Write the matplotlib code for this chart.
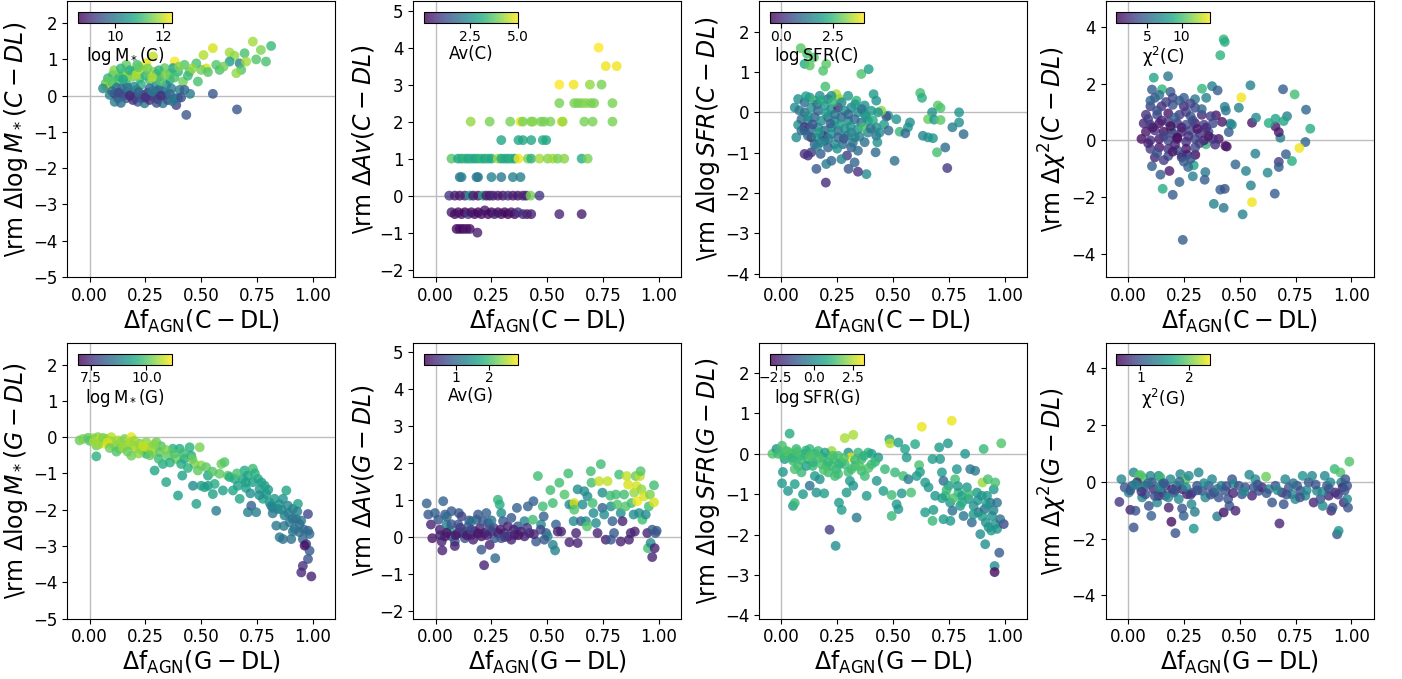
import numpy as np
import matplotlib.pyplot as plt

# each row: delta f_AGN, delta quantity, colour-bar quantity
mstar_c = [
    (0.731, 1.49, 11.8), (0.813, 1.37, 11.1), (0.767, 1.26, 11.6), (0.552, 1.31, 12.1),
    (0.510, 1.12, 11.9), (0.627, 1.19, 11.8), (0.649, 1.10, 11.7), (0.694, 1.17, 11.2),
    (0.746, 1.00, 11.3), (0.790, 0.94, 11.2), (0.627, 0.94, 10.6), (0.672, 0.89, 10.2),
    (0.701, 0.94, 11.8), (0.679, 0.71, 11.3), (0.657, 0.62, 11.7), (0.567, 0.85, 11.3),
    (0.582, 0.71, 11.2), (0.522, 0.75, 12.1), (0.500, 0.71, 11.5), (0.478, 0.89, 11.2),
    (0.448, 0.66, 11.4), (0.485, 0.39, 11.2), (0.425, 0.85, 11.3), (0.381, 0.94, 12.3),
    (0.373, 0.76, 10.6), (0.396, 0.66, 11.0), (0.418, 0.39, 11.5), (0.358, 0.43, 10.9),
    (0.336, 0.76, 11.4), (0.313, 0.52, 10.5), (0.284, 0.66, 11.7), (0.254, 0.89, 12.2),
    (0.239, 0.71, 12.1), (0.224, 0.48, 11.2), (0.194, 0.66, 11.3), (0.164, 0.85, 11.4),
    (0.149, 0.62, 11.8), (0.127, 0.43, 11.3), (0.104, 0.57, 11.2), (0.082, 0.48, 11.0),
    (0.072, 0.34, 11.3), (0.075, 0.25, 12.0), (0.134, 0.52, 11.1), (0.164, 0.34, 11.0),
    (0.269, 0.43, 11.2), (0.299, 0.29, 10.4), (0.343, 0.29, 10.3), (0.284, 1.08, 12.0),
    (0.213, 0.85, 11.2), (0.104, 0.34, 11.2), (0.190, 0.52, 11.5), (0.300, 0.60, 11.3),
    (0.360, 0.60, 11.0), (0.230, 0.30, 10.9), (0.060, 0.20, 10.3), (0.090, 0.02, 10.2),
    (0.112, -0.17, 10.1), (0.112, 0.06, 9.0), (0.142, 0.20, 9.6), (0.164, -0.07, 9.5),
    (0.187, 0.06, 10.2), (0.216, -0.17, 9.5), (0.246, -0.21, 10.0), (0.239, 0.02, 8.9),
    (0.269, -0.12, 9.0), (0.306, -0.10, 8.6), (0.328, -0.21, 10.0), (0.343, 0.02, 9.6),
    (0.381, -0.07, 9.5), (0.388, -0.26, 9.2), (0.403, 0.16, 10.1), (0.425, 0.16, 9.6),
    (0.433, -0.53, 9.5), (0.552, 0.05, 9.5), (0.660, -0.38, 9.5), (0.299, 0.11, 9.6),
    (0.209, 0.16, 10.2), (0.269, 0.20, 9.7), (0.164, 0.11, 10.1), (0.194, -0.12, 9.0),
    (0.366, 0.20, 10.1), (0.328, 0.11, 10.2), (0.127, -0.07, 9.6), (0.231, -0.07, 9.5),
    (0.284, -0.03, 9.2), (0.396, -0.07, 10.1), (0.310, 0.17, 9.8), (0.150, 0.00, 9.4),
    (0.200, 0.25, 10.3), (0.260, 0.08, 9.4), (0.350, -0.12, 9.4), (0.120, 0.22, 10.0),
    (0.090, 0.40, 11.4), (0.110, 0.70, 11.6), (0.140, 0.75, 11.0), (0.170, 0.55, 11.6),
    (0.180, 0.70, 10.9), (0.210, 0.58, 11.9), (0.220, 0.78, 11.4), (0.250, 0.55, 11.0),
    (0.260, 0.75, 11.5), (0.280, 0.50, 11.9), (0.310, 0.70, 11.0), (0.320, 0.40, 11.3),
    (0.340, 0.58, 11.6), (0.380, 0.50, 11.2), (0.400, 0.80, 11.6), (0.440, 0.55, 11.1),
    (0.460, 0.75, 11.7), (0.530, 0.65, 11.3), (0.600, 0.80, 11.5), (0.150, 0.45, 10.8),
    (0.100, 0.12, 9.8), (0.130, 0.08, 9.3), (0.170, 0.22, 9.9), (0.200, -0.05, 9.3),
    (0.220, 0.10, 9.6), (0.250, -0.05, 9.0), (0.280, 0.12, 10.0), (0.300, -0.20, 9.4),
    (0.320, 0.00, 9.0), (0.360, 0.05, 9.8), (0.370, -0.15, 10.0), (0.410, -0.05, 9.4),
    (0.450, 0.05, 10.1), (0.140, -0.20, 9.8), (0.180, 0.00, 8.9),
]

av_c = [
    (0.730, 4.0, 5.0), (0.762, 3.5, 4.9), (0.811, 3.5, 4.9), (0.554, 3.0, 5.0),
    (0.618, 3.0, 4.9), (0.691, 3.0, 4.2), (0.743, 3.0, 4.0), (0.554, 2.5, 4.0),
    (0.621, 2.5, 4.0), (0.636, 2.5, 4.0), (0.654, 2.5, 4.0), (0.673, 2.5, 4.1),
    (0.695, 2.5, 4.0), (0.710, 2.5, 4.0), (0.792, 2.5, 4.0), (0.157, 2.0, 4.2),
    (0.242, 2.0, 4.0), (0.334, 2.0, 4.0), (0.380, 2.0, 4.8), (0.391, 2.0, 4.0),
    (0.428, 2.0, 4.0), (0.436, 2.0, 4.1), (0.472, 2.0, 4.0), (0.486, 2.0, 4.0),
    (0.514, 2.0, 4.0), (0.565, 2.0, 4.9), (0.569, 2.0, 4.2), (0.666, 2.0, 4.0),
    (0.703, 2.0, 4.0), (0.792, 2.0, 4.0), (0.294, 1.5, 3.0), (0.371, 1.5, 3.0),
    (0.391, 1.5, 3.0), (0.428, 1.5, 3.0), (0.480, 1.5, 3.1), (0.495, 1.5, 3.0),
    (0.071, 1.0, 3.7), (0.100, 1.0, 3.0), (0.116, 1.0, 3.1), (0.131, 1.0, 3.3),
    (0.146, 1.0, 3.0), (0.160, 1.0, 3.2), (0.175, 1.0, 3.0), (0.190, 1.0, 3.1),
    (0.205, 1.0, 3.3), (0.220, 1.0, 3.0), (0.235, 1.0, 3.2), (0.250, 1.0, 3.0),
    (0.279, 1.0, 4.3), (0.294, 1.0, 3.0), (0.309, 1.0, 3.1), (0.324, 1.0, 3.0),
    (0.339, 1.0, 3.2), (0.354, 1.0, 3.0), (0.371, 1.0, 4.9), (0.413, 1.0, 4.0),
    (0.428, 1.0, 3.2), (0.465, 1.0, 4.3), (0.502, 1.0, 4.1), (0.525, 1.0, 4.3),
    (0.547, 1.0, 4.0), (0.654, 1.0, 3.1), (0.681, 1.0, 4.0), (0.576, 1.0, 4.1),
    (0.108, 0.5, 2.0), (0.116, 0.5, 2.2), (0.183, 0.5, 2.1), (0.190, 0.5, 2.0),
    (0.250, 0.5, 2.3), (0.294, 0.5, 2.1), (0.346, 0.5, 2.2), (0.380, 0.5, 2.2),
    (0.061, 0.0, 0.9), (0.086, 0.0, 0.5), (0.108, 0.0, 0.4), (0.131, 0.0, 0.6),
    (0.153, 0.0, 2.8), (0.168, 0.0, 0.5), (0.190, 0.0, 0.4), (0.212, 0.0, 3.0),
    (0.227, 0.0, 0.5), (0.242, 0.0, 0.4), (0.257, 0.0, 0.6), (0.279, 0.0, 0.5),
    (0.301, 0.0, 0.4), (0.324, 0.0, 0.8), (0.346, 0.0, 0.5), (0.368, 0.0, 0.4),
    (0.391, 0.0, 0.6), (0.405, 0.0, 0.5), (0.425, 0.0, 4.0), (0.465, 0.0, 0.9),
    (0.071, -0.45, 0.5), (0.086, -0.5, 0.3), (0.101, -0.45, 0.3), (0.116, -0.5, 0.4),
    (0.131, -0.45, 0.2), (0.146, -0.5, 0.9), (0.160, -0.45, 0.3), (0.175, -0.5, 0.4),
    (0.190, -0.45, 0.2), (0.205, -0.5, 0.3), (0.220, -0.4, 0.4), (0.235, -0.5, 0.3),
    (0.250, -0.45, 0.2), (0.264, -0.5, 0.6), (0.279, -0.45, 0.3), (0.294, -0.5, 0.4),
    (0.309, -0.45, 0.3), (0.324, -0.5, 0.2), (0.339, -0.45, 0.4), (0.354, -0.5, 0.3),
    (0.368, -0.45, 0.8), (0.391, -0.5, 0.7), (0.409, -0.5, 0.6), (0.428, -0.5, 0.5),
    (0.554, -0.5, 0.6), (0.654, -0.5, 0.5), (0.094, -0.9, 0.2), (0.108, -0.9, 0.3),
    (0.123, -0.9, 0.2), (0.138, -0.9, 0.4), (0.153, -0.9, 0.3), (0.187, -1.0, 0.5),
]

sfr_c = [
    (0.087, 1.59, 2.8), (0.115, 1.45, 2.7), (0.146, 1.36, 2.8), (0.104, 1.20, 2.2),
    (0.127, 1.16, 2.8), (0.187, 1.03, 2.7), (0.201, 1.20, 2.8), (0.358, 0.95, 2.7),
    (0.391, 1.07, 2.0), (0.197, 0.64, 2.6), (0.246, 0.45, 3.4), (0.261, 0.33, 3.3),
    (0.299, 0.41, 1.9), (0.336, 0.29, 2.4), (0.373, 0.17, 1.8), (0.413, 0.45, 1.9),
    (0.425, 0.29, 1.8), (0.622, 0.48, 2.6), (0.630, 0.36, 2.3), (0.701, 0.17, 2.8),
    (0.713, 0.11, 2.7), (0.675, 0.00, 1.7), (0.657, -0.17, 2.9), (0.684, -0.18, 1.9),
    (0.713, -0.19, 2.8), (0.796, 0.00, 1.8), (0.796, -0.25, 1.7), (0.766, -0.37, 1.3),
    (0.816, -0.54, 1.0), (0.634, -0.58, 1.5), (0.657, -0.62, 1.7), (0.679, -0.64, 1.8),
    (0.734, -0.87, 1.0), (0.697, -0.99, 2.6), (0.743, -1.38, 0.2), (0.507, -1.20, 1.1),
    (0.530, -0.48, 2.5), (0.567, -0.37, 1.8), (0.555, -0.52, 1.0), (0.576, -0.25, 1.7),
    (0.515, -0.17, 1.8), (0.478, -0.08, 1.9), (0.470, -0.10, 0.6), (0.448, 0.04, 3.2),
    (0.433, 0.00, 1.8), (0.425, -0.37, 1.6), (0.425, -0.58, 1.0), (0.430, -0.74, 1.7),
    (0.422, -0.99, 1.0), (0.373, -0.74, 1.1), (0.381, -1.53, 1.6), (0.343, -1.47, 0.1),
    (0.328, -1.24, 0.9), (0.301, -1.40, 0.7), (0.294, -1.07, 0.2), (0.269, -1.16, 1.5),
    (0.224, -1.20, 0.9), (0.201, -1.28, 1.3), (0.199, -1.74, 0.0), (0.157, -1.40, 0.7),
    (0.119, -1.07, 0.0), (0.104, -1.03, 0.1), (0.134, -0.99, 0.2), (0.176, -1.03, 0.8),
    (0.134, -0.62, -0.5), (0.067, -0.62, 1.6), (0.104, -0.45, 0.0), (0.075, -0.31, 1.8),
    (0.239, -0.79, 1.6), (0.209, -0.87, 0.9), (0.313, -0.87, 0.9), (0.343, -0.95, 1.0),
    (0.194, -0.70, 0.9), (0.060, 0.12, 1.6), (0.075, 0.33, 1.7), (0.104, 0.25, 1.0),
    (0.127, 0.37, 1.8), (0.149, 0.29, 2.5), (0.172, 0.41, 1.7), (0.209, 0.33, 1.0),
    (0.224, 0.41, 1.7), (0.104, 0.00, 1.0), (0.134, 0.12, 1.7), (0.164, 0.04, 1.0),
    (0.194, 0.17, 1.8), (0.224, 0.08, 1.6), (0.254, 0.12, 0.0), (0.284, 0.04, 1.7),
    (0.313, 0.12, 1.6), (0.343, 0.00, 1.8), (0.373, -0.04, 1.7), (0.403, 0.04, 1.9),
    (0.090, -0.17, 1.0), (0.119, -0.21, 1.6), (0.149, -0.12, 0.9), (0.179, -0.21, 1.7),
    (0.209, -0.12, 1.0), (0.239, -0.21, 1.8), (0.269, -0.12, 0.9), (0.299, -0.21, 1.6),
    (0.328, -0.17, 1.0), (0.358, -0.25, 1.0), (0.388, -0.21, 1.7), (0.104, -0.37, 0.0),
    (0.134, -0.41, 1.0), (0.164, -0.37, 1.7), (0.194, -0.45, 0.9), (0.224, -0.37, 1.8),
    (0.254, -0.45, 1.0), (0.284, -0.41, 1.6), (0.313, -0.50, 1.0), (0.343, -0.41, 1.7),
    (0.388, -0.50, 1.6), (0.119, -0.58, 1.0), (0.157, -0.62, 1.6), (0.187, -0.58, 0.1),
    (0.224, -0.54, 1.7), (0.254, -0.62, 1.0), (0.291, -0.58, 1.6), (0.328, -0.62, 1.7),
    (0.149, -0.79, 0.9), (0.179, -0.74, 1.6), (0.276, -0.79, 1.0), (0.366, -0.37, 2.6),
    (0.080, 0.05, 1.3), (0.090, -0.45, 1.0), (0.110, 0.40, 2.0), (0.120, -0.10, 1.7),
    (0.140, -0.30, 0.6), (0.160, 0.20, 1.2), (0.170, -0.50, 1.9), (0.180, 0.30, 2.2),
    (0.200, -0.02, 1.9), (0.210, -0.65, 1.3), (0.220, -0.28, 0.8), (0.230, 0.25, 2.4),
    (0.240, -0.05, 1.2), (0.260, -0.30, 1.9), (0.270, 0.25, 1.6), (0.280, -0.65, 0.7),
    (0.300, -0.05, 0.9), (0.310, -0.35, 1.8), (0.330, 0.20, 1.9), (0.350, -0.60, 1.4),
    (0.360, 0.08, 1.2), (0.380, -0.10, 1.9), (0.400, -0.40, 1.1), (0.410, -0.20, 2.2),
    (0.440, -0.50, 1.6), (0.460, -0.30, 1.9), (0.480, -0.45, 1.0), (0.160, -0.85, 1.4),
    (0.250, -0.90, 1.7), (0.320, -0.75, 1.2),
]

chi_c = [
    (0.428, 3.56, 9.5), (0.433, 3.47, 9.0), (0.413, 3.00, 9.3), (0.115, 2.21, 8.5),
    (0.179, 2.26, 6.0), (0.152, 1.80, 9.5), (0.107, 1.79, 4.5), (0.190, 1.71, 4.5),
    (0.331, 1.82, 9.5), (0.376, 1.91, 6.5), (0.401, 1.76, 4.5), (0.548, 1.94, 6.5),
    (0.507, 1.51, 13.8), (0.694, 1.80, 4.5), (0.746, 1.62, 10.0), (0.797, 1.08, 5.0),
    (0.816, 0.41, 9.0), (0.794, -0.06, 5.0), (0.767, -0.27, 13.8), (0.734, -0.73, 9.0),
    (0.707, -0.49, 4.5), (0.682, 0.09, 6.5), (0.675, 0.29, 1.5), (0.660, 0.49, 1.5),
    (0.660, 0.76, 8.5), (0.630, 0.61, 9.0), (0.712, 0.85, 6.5), (0.697, 0.68, 8.5),
    (0.675, -0.76, 3.0), (0.675, -0.94, 4.5), (0.625, -1.14, 7.0), (0.657, -1.88, 4.5),
    (0.555, 0.62, 1.5), (0.573, 0.80, 7.0), (0.570, -0.47, 6.5), (0.528, -1.08, 6.5),
    (0.550, -1.59, 6.5), (0.555, -2.18, 13.8), (0.513, -2.61, 6.5), (0.481, -0.85, 5.0),
    (0.496, 1.15, 6.5), (0.458, 0.59, 6.5), (0.465, 0.55, 7.0), (0.451, 0.29, 4.5),
    (0.433, 1.18, 6.5), (0.438, 1.05, 6.0), (0.421, 0.65, 1.5), (0.394, 0.88, 1.5),
    (0.406, 0.05, 1.5), (0.436, -0.20, 1.2), (0.442, -0.22, 1.5), (0.413, -1.74, 4.5),
    (0.433, -1.71, 4.0), (0.384, -2.24, 6.5), (0.428, -2.38, 6.0), (0.349, -0.14, 9.5),
    (0.346, -1.12, 6.0), (0.343, -1.39, 4.5), (0.294, -0.88, 8.5), (0.290, -1.27, 6.5),
    (0.269, -0.94, 5.0), (0.242, -0.53, 4.5), (0.264, -0.51, 2.5), (0.301, -0.51, 0.9),
    (0.230, -1.47, 5.0), (0.200, -1.92, 4.5), (0.155, -1.71, 9.0), (0.145, -1.21, 4.5),
    (0.107, -0.91, 4.5), (0.185, -1.08, 1.5), (0.245, -3.51, 4.5), (0.194, 0.38, 9.5),
    (0.120, 1.50, 4.0), (0.200, 1.50, 3.5), (0.250, 1.50, 4.5), (0.300, 1.45, 6.0),
    (0.350, 1.50, 6.5), (0.100, 1.20, 3.0), (0.150, 1.20, 2.5), (0.200, 1.25, 4.0),
    (0.250, 1.20, 2.0), (0.300, 1.15, 3.5), (0.080, 0.90, 2.5), (0.130, 0.90, 3.5),
    (0.180, 0.95, 1.5), (0.230, 0.90, 3.0), (0.280, 0.85, 4.5), (0.330, 0.90, 2.0),
    (0.370, 0.85, 3.0), (0.070, 0.60, 2.0), (0.100, 0.55, 3.5), (0.140, 0.60, 1.2),
    (0.180, 0.65, 3.0), (0.220, 0.60, 2.5), (0.260, 0.55, 4.0), (0.300, 0.60, 1.8),
    (0.340, 0.55, 3.0), (0.080, 0.30, 1.5), (0.120, 0.35, 2.5), (0.160, 0.30, 1.0),
    (0.200, 0.25, 3.0), (0.240, 0.30, 2.0), (0.280, 0.35, 3.5), (0.320, 0.25, 2.5),
    (0.360, 0.30, 4.0), (0.060, 0.05, 1.2), (0.100, 0.00, 2.5), (0.140, 0.05, 1.5),
    (0.180, 0.00, 3.5), (0.220, 0.05, 1.0), (0.260, -0.05, 2.5), (0.300, 0.05, 3.5),
    (0.340, 0.00, 1.5), (0.380, 0.05, 2.5), (0.100, -0.30, 3.0), (0.140, -0.25, 1.5),
    (0.180, -0.30, 2.5), (0.220, -0.35, 4.0), (0.260, -0.30, 1.5), (0.300, -0.25, 3.5),
    (0.120, -0.60, 2.0), (0.180, -0.55, 3.5), (0.240, -0.60, 2.5), (0.280, -0.65, 4.0),
    (0.090, 0.75, 3.0), (0.110, 0.45, 1.5), (0.130, 1.05, 4.0), (0.150, 0.70, 2.0),
    (0.160, 0.15, 3.5), (0.170, 1.35, 3.0), (0.190, 0.50, 1.2), (0.210, 0.80, 4.5),
    (0.210, -0.15, 2.0), (0.230, 1.40, 4.5), (0.240, 0.45, 1.8), (0.260, 1.00, 3.0),
    (0.270, 0.15, 2.5), (0.290, 0.70, 3.5), (0.310, 0.40, 1.5), (0.320, -0.10, 3.0),
    (0.330, 1.10, 5.0), (0.350, 0.45, 2.2), (0.360, 0.15, 1.5), (0.380, 0.60, 3.5),
    (0.390, -0.15, 2.5), (0.130, -0.45, 4.0), (0.160, -0.70, 3.0), (0.200, -0.40, 1.5),
    (0.250, -0.75, 4.5), (0.100, 1.40, 5.0), (0.140, 1.60, 5.5), (0.090, -0.10, 2.0),
    (0.280, 1.30, 3.5), (0.220, 0.10, 1.2),
]

mstar_g = [
    (-0.045, -0.09, 10.2), (-0.030, -0.05, 10.3), (-0.007, -0.02, 10.1), (0.015, -0.03, 10.4),
    (0.037, 0.00, 10.3), (0.052, -0.09, 11.0), (0.067, -0.18, 11.1), (0.030, -0.23, 10.2),
    (0.030, -0.53, 9.6), (0.075, -0.05, 10.4), (0.097, 0.00, 10.7), (0.112, -0.23, 10.3),
    (0.127, -0.09, 10.6), (0.134, -0.32, 10.2), (0.157, -0.05, 10.3), (0.164, -0.23, 10.4),
    (0.187, 0.00, 11.0), (0.194, -0.23, 10.3), (0.209, -0.32, 10.7), (0.187, -0.51, 10.2),
    (0.224, -0.18, 10.3), (0.239, -0.37, 10.2), (0.254, -0.14, 10.4), (0.254, -0.46, 9.6),
    (0.276, -0.28, 10.3), (0.284, -0.41, 10.7), (0.299, -0.14, 10.2), (0.313, -0.41, 10.1),
    (0.328, -0.74, 9.5), (0.291, -0.92, 9.4), (0.343, -1.24, 9.4), (0.351, -0.51, 10.1),
    (0.373, -0.32, 9.6), (0.388, -0.60, 10.2), (0.403, -0.32, 9.5), (0.410, -0.74, 9.5),
    (0.396, -1.61, 9.3), (0.425, -0.60, 9.5), (0.448, -0.28, 9.6), (0.455, -0.51, 9.4),
    (0.415, -1.06, 9.3), (0.463, -1.34, 8.9), (0.493, -0.28, 10.3), (0.470, -0.74, 10.3),
    (0.500, -0.78, 10.4), (0.485, -0.92, 10.1), (0.522, -0.83, 10.1), (0.530, -1.06, 9.4),
    (0.500, -1.34, 9.3), (0.478, -1.84, 9.3), (0.515, -1.38, 9.4), (0.530, -1.34, 9.2),
    (0.552, -1.57, 9.3), (0.567, -2.03, 8.7), (0.560, -1.29, 9.5), (0.590, -0.74, 10.2),
    (0.604, -0.69, 10.0), (0.582, -1.01, 10.1), (0.597, -1.47, 9.3), (0.619, -1.06, 10.1),
    (0.627, -1.10, 9.5), (0.649, -1.15, 9.5), (0.642, -1.47, 9.4), (0.664, -1.34, 9.3),
    (0.672, -1.70, 9.4), (0.687, -1.15, 9.3), (0.694, -0.92, 9.5), (0.709, -1.06, 9.4),
    (0.709, -2.07, 8.7), (0.724, -1.89, 8.2), (0.731, -0.87, 9.8), (0.731, -1.24, 9.3),
    (0.746, -2.07, 8.7), (0.754, -1.15, 9.4), (0.761, -1.43, 9.2), (0.776, -1.70, 9.3),
    (0.784, -1.34, 9.4), (0.791, -1.57, 9.1), (0.806, -1.80, 9.2), (0.813, -1.89, 8.8),
    (0.828, -1.70, 9.2), (0.836, -2.44, 8.6), (0.843, -1.98, 8.8), (0.851, -2.76, 8.6),
    (0.866, -1.70, 9.1), (0.866, -2.81, 8.5), (0.873, -2.16, 8.7), (0.881, -1.47, 9.4),
    (0.888, -1.89, 8.8), (0.896, -2.35, 8.6), (0.903, -2.81, 8.5), (0.910, -1.98, 8.8),
    (0.918, -2.53, 8.4), (0.925, -2.26, 8.6), (0.933, -1.84, 9.3), (0.940, -2.62, 8.4),
    (0.948, -2.30, 8.6), (0.955, -2.81, 8.3), (0.970, -2.95, 7.6), (0.978, -2.12, 7.8),
    (0.978, -2.58, 8.3), (0.985, -2.67, 8.4), (0.985, -3.13, 8.1), (0.978, -3.36, 8.0),
    (0.955, -3.55, 7.5), (0.948, -3.73, 7.4), (0.993, -3.84, 7.3), (0.963, -2.99, 7.1),
    (0.910, -2.60, 8.6), (0.860, -2.00, 8.9), (0.820, -2.10, 8.6), (0.760, -1.60, 9.0),
    (0.700, -1.40, 9.3), (0.050, -0.05, 10.8), (0.100, -0.12, 10.5), (0.140, -0.15, 10.4),
    (0.180, -0.15, 10.6), (0.230, -0.28, 10.5), (0.260, -0.30, 10.6), (0.320, -0.25, 10.0),
    (0.000, -0.10, 10.0), (0.020, -0.12, 10.6), (0.040, -0.20, 10.5), (0.060, -0.02, 10.3),
    (0.080, -0.15, 10.9), (0.090, -0.30, 10.2), (0.120, -0.40, 10.0), (0.150, -0.30, 10.5),
    (0.170, -0.40, 10.2), (0.200, -0.10, 10.5), (0.220, -0.45, 10.4), (0.240, -0.25, 10.8),
    (0.270, -0.50, 10.1), (0.290, -0.20, 10.4), (0.310, -0.60, 9.8), (0.340, -0.35, 10.3),
    (0.360, -0.70, 9.6), (0.380, -0.45, 10.0), (0.420, -0.45, 9.8), (0.440, -0.85, 9.6),
    (0.460, -0.60, 10.2), (0.550, -0.95, 10.0), (0.660, -1.00, 9.9), (0.700, -1.25, 9.3),
    (0.720, -1.55, 9.0), (0.740, -1.00, 9.6), (0.770, -1.25, 9.3), (0.800, -1.45, 9.2),
    (0.820, -1.95, 8.8), (0.850, -1.85, 9.0), (0.870, -2.45, 8.6), (0.890, -2.10, 8.7),
    (0.910, -2.25, 8.5), (0.930, -2.05, 8.7), (0.940, -2.40, 8.5), (0.960, -2.55, 8.4),
]

av_g = [
    (-0.040, 0.91, 0.9), (-0.033, 0.61, 0.8), (-0.021, 0.34, 0.3), (-0.015, -0.03, 0.2),
    (-0.003, 0.65, 0.9), (0.012, 0.47, 0.8), (0.019, 0.20, 0.3), (0.027, -0.12, 0.3),
    (0.030, -0.36, 0.3), (0.034, 0.97, 0.9), (0.042, 0.61, 0.9), (0.049, 0.34, 1.3),
    (0.064, 0.20, 1.6), (0.071, 0.02, 0.7), (0.086, -0.12, 0.8), (0.086, -0.24, 0.3),
    (0.101, 0.34, 0.8), (0.104, 0.65, 0.8), (0.123, 0.11, 0.3), (0.131, -0.03, 0.7),
    (0.146, 0.29, 0.8), (0.160, 0.06, 0.3), (0.168, -0.07, 0.3), (0.183, 0.47, 0.9),
    (0.190, 0.61, 0.8), (0.198, 0.24, 0.3), (0.205, -0.34, 0.8), (0.217, -0.76, 0.3),
    (0.220, 0.11, 0.2), (0.227, 0.65, 0.9), (0.235, 0.38, 0.8), (0.242, -0.21, 0.3),
    (0.250, 0.15, 0.3), (0.264, -0.03, 0.8), (0.267, -0.57, 1.0), (0.279, 1.01, 1.9),
    (0.287, 0.88, 1.8), (0.294, 0.65, 1.4), (0.302, 0.43, 0.8), (0.309, 0.11, 0.8),
    (0.324, 0.29, 0.3), (0.339, 0.52, 0.8), (0.354, 0.06, 0.3), (0.364, 0.79, 0.9),
    (0.368, 0.29, 0.8), (0.383, 0.15, 0.3), (0.398, 0.43, 1.3), (0.413, 0.83, 0.9),
    (0.421, 0.11, 0.3), (0.435, 0.47, 2.0), (0.438, 0.97, 0.9), (0.450, -0.12, 0.8),
    (0.458, 1.65, 2.0), (0.472, 0.34, 1.4), (0.480, 0.83, 2.0), (0.484, 0.56, 0.9),
    (0.495, 0.11, 0.8), (0.502, 0.02, 1.3), (0.514, 1.27, 2.0), (0.525, 0.92, 2.0),
    (0.525, -0.21, 1.3), (0.535, -0.36, 1.3), (0.539, 0.34, 0.9), (0.554, 1.47, 2.0),
    (0.562, 0.15, 0.3), (0.577, 1.15, 2.1), (0.594, 1.72, 2.0), (0.599, 0.88, 1.4),
    (0.599, -0.14, 0.3), (0.614, 0.88, 1.4), (0.621, 0.92, 2.7), (0.618, 0.43, 1.4),
    (0.621, 0.74, 2.1), (0.629, 0.11, 0.3), (0.636, 1.29, 1.4), (0.651, 0.43, 0.9),
    (0.658, 0.88, 1.4), (0.666, 1.24, 1.4), (0.673, 0.43, 1.4), (0.678, 0.29, 2.1),
    (0.680, 1.10, 1.4), (0.695, 1.78, 2.0), (0.698, 1.47, 2.0), (0.703, 0.92, 2.0),
    (0.707, 0.65, 1.4), (0.718, 0.38, 1.4), (0.725, 0.11, 0.3), (0.732, 1.51, 2.6),
    (0.740, 1.97, 2.0), (0.747, 1.20, 1.4), (0.747, 0.79, 0.9), (0.755, 0.61, 1.4),
    (0.762, -0.07, 0.3), (0.770, 1.51, 2.6), (0.782, 1.12, 2.0), (0.785, 0.83, 1.4),
    (0.792, 0.43, 0.9), (0.799, 0.11, 0.8), (0.807, 1.15, 2.0), (0.814, 0.88, 2.1),
    (0.822, 1.69, 2.0), (0.829, 0.65, 1.4), (0.837, 0.43, 0.3), (0.844, 1.15, 2.0),
    (0.851, 0.83, 2.1), (0.856, 1.65, 2.6), (0.862, 1.42, 2.7), (0.866, -0.07, 0.3),
    (0.874, 0.11, 0.3), (0.877, 0.92, 2.0), (0.887, 0.61, 1.4), (0.889, 1.20, 2.4),
    (0.892, 0.15, 0.3), (0.896, 1.65, 2.2), (0.900, 1.38, 2.7), (0.903, 0.97, 2.8),
    (0.911, 0.65, 1.4), (0.915, 1.65, 2.6), (0.918, 1.78, 2.1), (0.922, 1.29, 2.4),
    (0.926, 0.47, 2.0), (0.933, 1.10, 2.7), (0.941, 0.61, 1.4), (0.948, 0.11, 0.3),
    (0.951, -0.30, 2.0), (0.955, 0.83, 2.0), (0.960, 1.15, 2.3), (0.963, -0.16, 1.4),
    (0.970, 0.20, 0.8), (0.970, -0.54, 0.3), (0.978, 0.94, 2.7), (0.978, 1.40, 2.0),
    (0.981, -0.30, 0.3), (0.985, 0.11, 0.8), (0.990, 0.17, 0.8), (0.042, 0.02, 0.2),
    (0.100, 0.11, 0.3), (0.130, 0.15, 0.8), (0.175, 0.15, 0.3), (0.205, 0.02, 0.2),
    (0.279, 0.11, 0.3), (0.294, -0.03, 0.8), (0.339, -0.07, 0.3), (0.398, 0.02, 0.3),
    (0.324, 0.02, 0.3), (0.242, 0.24, 0.8), (0.212, 0.43, 0.8), (0.160, 0.43, 1.3),
    (0.116, 0.56, 0.6), (0.071, 0.70, 0.8), (0.547, 0.15, 0.3), (0.487, -0.07, 0.8),
    (0.636, -0.16, 0.3), (0.785, -0.07, 0.8), (0.829, -0.12, 0.3),
    (0.020, 0.05, 0.3), (0.050, 0.12, 0.2), (0.070, 0.35, 0.8), (0.090, 0.05, 0.2),
    (0.110, 0.25, 0.5), (0.140, 0.05, 0.2), (0.160, 0.20, 0.6), (0.190, 0.10, 0.2),
    (0.230, 0.05, 0.3), (0.260, 0.25, 0.6), (0.290, 0.20, 0.2), (0.310, 0.00, 0.5),
    (0.350, 0.20, 0.3), (0.370, 0.05, 0.2), (0.410, 0.25, 0.5), (0.440, 0.08, 0.3),
    (0.470, 0.20, 0.6), (0.050, 0.55, 1.0), (0.150, 0.45, 0.9), (0.250, 0.45, 1.1),
]

sfr_g = [
    (-0.040, 0.00, 1.5), (-0.022, 0.12, 0.2), (-0.015, 0.00, 1.3), (0.003, 0.20, 1.4),
    (0.037, 0.50, 0.8), (0.015, -0.13, 0.5), (0.007, -0.45, 0.3), (0.003, -0.73, 0.4),
    (0.030, -0.92, 0.3), (0.045, 0.00, 1.2), (0.052, -0.17, 1.3), (0.060, -0.75, 0.5),
    (0.052, -1.29, 0.3), (0.060, -1.22, 1.2), (0.067, 0.12, 1.2), (0.075, -0.30, 1.3),
    (0.090, -0.46, 1.2), (0.097, -1.00, 0.4), (0.105, 0.00, 1.1), (0.127, 0.12, 1.2),
    (0.127, -0.79, -0.6), (0.142, -0.21, 0.3), (0.150, 0.00, 1.2), (0.150, -0.55, 0.4),
    (0.172, -0.63, 0.2), (0.157, -0.96, 0.2), (0.192, -0.98, 0.5), (0.187, -0.09, 1.3),
    (0.202, -0.30, 1.2), (0.210, -0.46, 1.3), (0.216, -1.88, -1.8), (0.225, 0.07, 2.3),
    (0.232, -0.13, 1.3), (0.240, -0.55, 1.3), (0.247, -0.38, 1.2), (0.243, -2.28, 0.1),
    (0.258, -1.21, 0.4), (0.270, -1.39, 0.5), (0.270, -0.21, 1.3), (0.284, 0.39, 2.4),
    (0.292, -0.96, 0.4), (0.300, 0.03, 0.2), (0.307, -0.67, 0.4), (0.311, -0.09, 3.0),
    (0.322, 0.47, 2.4), (0.322, -0.79, 0.3), (0.329, -0.30, 1.4), (0.337, -1.58, -0.4),
    (0.344, 0.03, 1.2), (0.359, -0.42, 1.3), (0.374, -0.55, 1.3), (0.382, -1.04, 0.4),
    (0.389, 0.03, 1.1), (0.404, -0.26, 1.3), (0.427, -0.67, 0.3), (0.434, -0.09, 0.4),
    (0.457, -0.92, 0.5), (0.464, -0.38, 1.2), (0.484, 0.36, 0.6), (0.487, 0.26, 2.5),
    (0.494, -1.02, 1.3), (0.494, -1.54, 1.2), (0.509, -0.46, 1.2), (0.516, -1.25, 0.4),
    (0.524, -1.37, 0.3), (0.524, 0.28, 0.5), (0.539, -0.98, 0.3), (0.546, -0.55, 1.3),
    (0.554, 0.12, 0.6), (0.561, -0.09, 0.4), (0.569, -0.63, -0.3), (0.581, -0.96, 1.4),
    (0.599, 0.24, 0.8), (0.606, -0.55, 0.4), (0.617, -0.28, 1.4), (0.621, -0.45, 0.5),
    (0.629, 0.67, 3.0), (0.644, -0.71, 0.4), (0.644, -1.45, 0.5), (0.659, -0.83, 0.3),
    (0.677, -0.13, 0.5), (0.677, -1.66, 1.2), (0.681, -1.39, 0.4), (0.689, -1.04, 0.3),
    (0.707, 0.16, 0.4), (0.711, -0.13, 0.3), (0.719, -0.46, 0.4), (0.726, -0.67, -0.8),
    (0.726, -1.62, 0.4), (0.734, -1.04, 1.3), (0.746, 0.26, 0.3), (0.749, -0.79, 0.4),
    (0.756, -1.21, 0.3), (0.757, -1.66, 0.4), (0.763, 0.82, 3.0), (0.766, -1.41, -0.7),
    (0.778, -0.63, 1.3), (0.786, -0.38, 0.3), (0.793, -0.96, 1.2), (0.801, -1.29, 0.4),
    (0.808, -1.04, 0.5), (0.816, -1.54, -0.5), (0.823, 0.00, 0.3), (0.831, -0.83, 0.4),
    (0.838, -1.12, 0.3), (0.846, -0.38, -0.5), (0.853, -1.70, -0.8), (0.861, -1.29, 0.2),
    (0.868, -0.42, -0.4), (0.876, -0.96, 0.4), (0.883, -1.45, -0.6), (0.891, -1.99, 0.1),
    (0.898, -1.04, 0.3), (0.901, -0.71, 2.3), (0.906, 0.12, 1.2), (0.910, -1.37, -0.6),
    (0.913, -2.24, 0.1), (0.916, -1.70, 0.2), (0.921, -1.04, 0.4), (0.925, -0.63, 1.4),
    (0.928, -1.82, 0.2), (0.936, -1.21, -0.5), (0.943, -1.54, 0.2), (0.951, -0.88, 0.3),
    (0.958, -1.74, 0.3), (0.958, -0.71, 1.4), (0.966, -1.21, -0.6), (0.966, -1.86, 0.2),
    (0.976, -2.45, -1.2), (0.955, -2.78, 0.1), (0.955, -2.93, -2.7), (0.985, 0.26, 1.5),
    (0.996, -1.74, -1.6), (0.980, -1.62, -0.7), (0.060, -0.38, 1.4), (0.022, 0.07, 1.4),
    (0.082, -0.05, 1.3), (0.120, -0.13, 1.4), (0.165, 0.07, 1.2), (0.195, 0.03, 0.6),
    (0.254, -0.05, 1.4), (0.284, -0.26, 1.3), (0.314, -0.38, 1.4), (0.359, -0.13, 1.3),
    (0.404, 0.00, 0.5), (0.112, -0.30, 0.5), (0.180, -0.26, 1.4), (0.254, -0.50, 1.3),
    (0.225, -0.30, 1.3),
    (0.010, -0.05, 1.3), (0.030, 0.05, 1.5), (0.050, -0.10, 1.1), (0.070, 0.05, 1.4),
    (0.090, -0.15, 1.2), (0.110, 0.08, 1.0), (0.130, -0.05, 1.5), (0.140, -0.30, 1.2),
    (0.170, -0.10, 1.4), (0.190, -0.40, 1.5), (0.210, -0.20, 1.2), (0.230, -0.05, 1.4),
    (0.260, -0.25, 1.1), (0.280, -0.10, 1.5), (0.300, -0.45, 1.3), (0.330, -0.15, 1.2),
    (0.350, -0.30, 1.5), (0.370, -0.05, 1.0), (0.390, -0.35, 1.4), (0.420, -0.20, 1.2),
    (0.720, -1.10, 0.5), (0.740, -0.90, 1.2), (0.770, -1.10, 1.4), (0.790, -0.80, 0.4),
    (0.810, -1.20, 0.9), (0.840, -1.00, 1.2), (0.860, -1.50, 0.3), (0.880, -1.15, 0.2),
    (0.900, -1.55, 0.4), (0.920, -1.25, 0.3), (0.940, -1.90, 0.3), (0.950, -1.40, -0.2),
]

chi_g = [
    (-0.039, -0.71, 0.8), (-0.030, 0.09, 1.4), (-0.015, -0.20, 1.0), (0.010, -0.99, 0.7),
    (0.025, 0.33, 1.4), (0.025, -1.61, 1.0), (0.033, -1.02, 1.0), (0.048, 0.21, 1.9),
    (0.055, 0.24, 1.9), (0.063, -0.55, 1.4), (0.066, 0.15, 1.9), (0.078, -0.14, 1.0),
    (0.093, -0.85, 1.0), (0.100, 0.21, 1.4), (0.104, -1.20, 1.1), (0.115, -0.26, 0.7),
    (0.130, -0.73, 1.4), (0.137, 0.21, 1.4), (0.145, 0.15, 1.8), (0.152, -0.38, 1.0),
    (0.167, -0.14, 1.0), (0.182, -0.91, 0.7), (0.190, 0.09, 1.4), (0.194, -1.41, 0.6),
    (0.204, -0.38, 1.0), (0.212, -1.81, 1.0), (0.219, -0.14, 1.4), (0.227, -0.61, 1.4),
    (0.234, 0.27, 1.4), (0.242, -0.94, 1.0), (0.249, -1.20, 1.1), (0.257, 0.09, 1.9),
    (0.264, -0.44, 0.7), (0.272, 0.21, 1.4), (0.284, -0.79, 1.4), (0.294, -1.65, 1.5),
    (0.299, -1.06, 1.3), (0.309, -0.14, 1.0), (0.316, 0.33, 1.4), (0.331, -0.32, 1.0),
    (0.346, -0.55, 1.4), (0.361, -0.14, 1.0), (0.376, 0.09, 1.4), (0.384, -0.38, 1.0),
    (0.399, -1.22, 1.3), (0.406, -0.55, 1.0), (0.418, -0.14, 1.4), (0.428, -1.08, 0.6),
    (0.436, -0.32, 1.0), (0.448, -0.61, 1.0), (0.454, -0.85, 1.0), (0.466, 0.09, 1.0),
    (0.473, -0.08, 1.4), (0.481, -1.02, 0.7), (0.496, -0.14, 1.0), (0.510, -0.44, 1.0),
    (0.525, -0.20, 1.0), (0.543, 0.25, 1.4), (0.555, -0.49, 0.7), (0.563, -0.20, 1.0),
    (0.570, 0.09, 1.4), (0.585, -0.32, 1.0), (0.600, -0.20, 0.7), (0.618, 0.18, 2.0),
    (0.630, -0.26, 1.4), (0.645, -0.73, 1.0), (0.660, -0.14, 1.0), (0.678, -1.47, 0.7),
    (0.690, -0.38, 0.7), (0.697, -0.79, 1.0), (0.704, 0.09, 1.4), (0.720, -0.20, 1.0),
    (0.734, -0.44, 1.4), (0.749, -0.61, 1.4), (0.757, -0.14, 1.0), (0.772, -0.32, 1.0),
    (0.782, 0.21, 1.5), (0.794, -0.49, 1.4), (0.809, -0.02, 1.0), (0.824, 0.21, 1.4),
    (0.831, -0.73, 0.7), (0.846, -0.32, 1.4), (0.861, -0.61, 1.0), (0.872, -0.85, 1.4),
    (0.881, 0.21, 1.4), (0.891, -0.14, 1.0), (0.899, -0.49, 0.7), (0.906, -0.02, 1.4),
    (0.910, -1.02, 0.7), (0.916, -0.91, 1.0), (0.925, 0.45, 1.8), (0.928, -0.38, 0.7),
    (0.936, -1.85, 1.0), (0.943, -1.73, 1.5), (0.951, 0.33, 1.9), (0.955, -0.02, 1.4),
    (0.961, -0.20, 0.7), (0.966, -0.73, 0.7), (0.973, 0.09, 1.0), (0.981, -0.61, 1.4),
    (0.985, -0.91, 1.0), (0.991, 0.71, 1.9), (0.981, -0.14, 1.0), (0.018, -0.14, 1.0),
    (0.040, -0.02, 0.7), (0.078, -0.44, 1.0), (0.107, -0.02, 1.0), (0.137, -0.49, 0.7),
    (0.167, -0.49, 1.0), (0.197, -0.26, 0.7), (0.003, -0.38, 1.4), (0.055, -0.20, 1.4),
    (0.152, -0.08, 1.4), (0.242, -0.26, 0.7), (0.287, -0.38, 1.0),
    (0.010, -0.30, 1.0), (0.030, -0.10, 1.4), (0.060, -0.35, 0.8), (0.090, -0.05, 1.2),
    (0.120, -0.50, 1.0), (0.140, -0.20, 1.4), (0.160, -0.05, 1.0), (0.180, -0.55, 1.4),
    (0.210, -0.30, 1.0), (0.230, 0.00, 1.2), (0.260, -0.20, 1.4), (0.280, -0.45, 0.8),
    (0.310, -0.30, 1.0), (0.340, -0.05, 1.4), (0.370, -0.45, 1.0), (0.400, -0.25, 1.2),
    (0.440, -0.15, 1.0), (0.470, -0.40, 0.7), (0.520, -0.35, 1.4), (0.580, -0.10, 1.0),
    (0.620, -0.40, 1.0), (0.670, -0.30, 1.4), (0.710, -0.45, 1.0), (0.740, -0.05, 1.2),
    (0.770, -0.55, 1.0), (0.800, -0.30, 1.4), (0.840, -0.10, 1.0), (0.870, -0.35, 1.4),
    (0.900, -0.25, 1.0), (0.940, -0.45, 0.8), (0.970, -0.30, 1.0),
]

xlab_c = r'$\rm \Delta f_{AGN}(C-DL)$'
xlab_g = r'$\rm \Delta f_{AGN}(G-DL)$'

# (data, y-limits, y-label, colour-bar label, vmin, vmax, x-label)
panels = [
    (mstar_c, (-5.0, 2.6), r'\rm $\Delta\log M_*(C-DL)$', r'$\rm \log M_*(C)$', 8.46, 12.35, xlab_c),
    (av_c, (-2.2, 5.25), r'\rm $\Delta Av(C-DL)$', 'Av(C)', 0.09, 5.0, xlab_c),
    (sfr_c, (-4.08, 2.75), r'\rm $\Delta\log SFR(C-DL)$', r'$\rm \log SFR(C)$', -0.53, 3.97, xlab_c),
    (chi_c, (-4.82, 4.9), r'\rm $\Delta\chi^2(C-DL)$', r'$\rm \chi^2(C)$', 0.63, 14.1, xlab_c),
    (mstar_g, (-5.0, 2.6), r'\rm $\Delta\log M_*(G-DL)$', r'$\rm \log M_*(G)$', 6.91, 11.15, xlab_g),
    (av_g, (-2.2, 5.25), r'\rm $\Delta Av(G-DL)$', 'Av(G)', 0.03, 2.87, xlab_g),
    (sfr_g, (-4.08, 2.75), r'\rm $\Delta\log SFR(G-DL)$', r'$\rm \log SFR(G)$', -2.89, 3.2, xlab_g),
    (chi_g, (-4.82, 4.9), r'\rm $\Delta\chi^2(G-DL)$', r'$\rm \chi^2(G)$', 0.51, 2.43, xlab_g),
]

fig = plt.figure(figsize=(14.02, 6.79), dpi=100)
lefts = [0.048, 0.2948, 0.5414, 0.7887]
bottoms = [0.592, 0.0891]
w, h = 0.1911, 0.406

for i, (rows, ylim, ylab, clab, vmin, vmax, xlab) in enumerate(panels):
    ax = fig.add_axes([lefts[i % 4], bottoms[i // 4], w, h])
    x, y, c = np.array(rows).T
    ax.axhline(0, color='#bdbdbd', lw=1, zorder=0)
    ax.axvline(0, color='#bdbdbd', lw=1, zorder=0)
    sc = ax.scatter(x, y, c=c, cmap='viridis', vmin=vmin, vmax=vmax,
                    s=50, alpha=0.8, edgecolors='none')
    ax.set_xlim(-0.1, 1.1)
    ax.set_ylim(*ylim)
    ax.set_xticks([0, 0.25, 0.5, 0.75, 1.0])
    ax.tick_params(labelsize=12)
    ax.set_xlabel(xlab, fontsize=17, labelpad=2)
    ax.set_ylabel(ylab, fontsize=17, labelpad=2)

    cax = ax.inset_axes([0.04, 0.92, 0.35, 0.04])
    cb = fig.colorbar(sc, cax=cax, orientation='horizontal')
    cb.ax.tick_params(labelsize=10, pad=1)
    cb.set_label(clab, fontsize=12, labelpad=1)

fig.savefig('out.png', dpi=100)
